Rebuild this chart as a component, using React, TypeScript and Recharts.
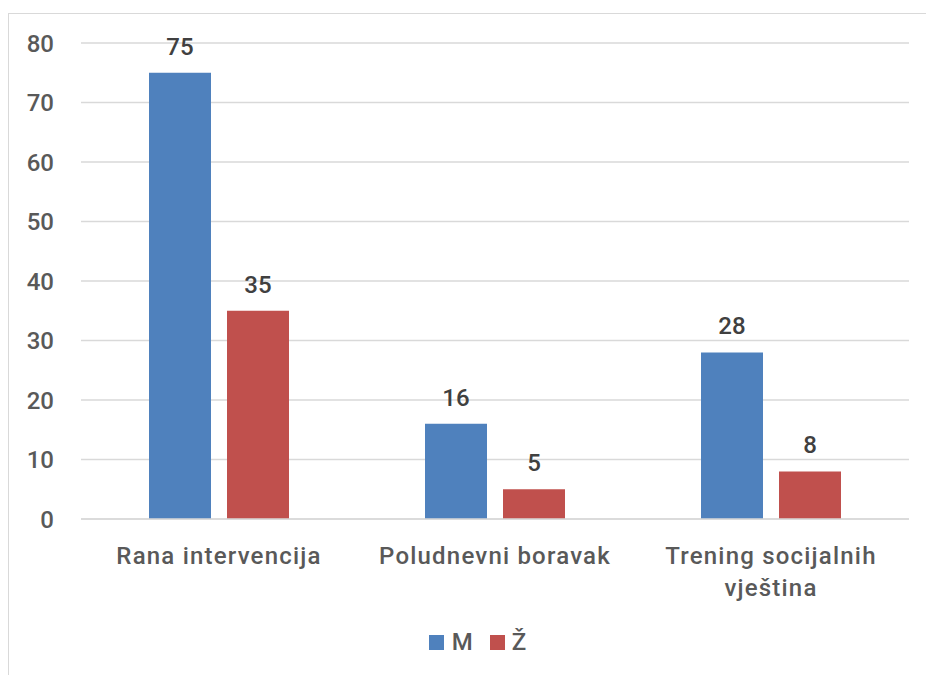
import React from 'react';
import { BarChart, Bar, XAxis, YAxis, CartesianGrid, Legend, LabelList } from 'recharts';

const categories = ['Rana intervencija', 'Poludnevni boravak', 'Trening socijalnih vještina'];
const seriesM = [75, 16, 28];
const seriesZ = [35, 5, 8];
const yTicks = [0, 10, 20, 30, 40, 50, 60, 70, 80];

const data = categories.map((name, i) => ({ name, M: seriesM[i], Z: seriesZ[i] }));

const FONT = 'Roboto, "DejaVu Sans", sans-serif';
const TXT = '#595959';
const FS = 24;
const FW = 500;
const MAX_CHARS = 19;

const wrapWords = (s: string): string[] => {
  const words = s.split(' ');
  const lines: string[] = [];
  let cur = '';
  words.forEach((w) => {
    const next = cur ? cur + ' ' + w : w;
    if (next.length > MAX_CHARS && cur) {
      lines.push(cur);
      cur = w;
    } else {
      cur = next;
    }
  });
  if (cur) lines.push(cur);
  return lines;
};

const XTick = (props: any) => {
  const { x, y, payload } = props;
  const lines = wrapWords(String(payload.value));
  return (
    <text x={x} y={y} textAnchor="middle" fill={TXT} fontSize={FS} fontFamily={FONT} fontWeight={FW} style={{ letterSpacing: 1.2 }}>
      {lines.map((l, i) => (
        <tspan key={i} x={x} dy={i === 0 ? 17 : 32}>{l}</tspan>
      ))}
    </text>
  );
};

const LegendContent = () => (
  <div style={{ display: 'flex', justifyContent: 'center', alignItems: 'center', fontFamily: FONT, fontSize: FS, fontWeight: FW, color: TXT, letterSpacing: 1 }}>
    <span style={{ width: 15, height: 15, background: '#4F81BD', display: 'inline-block', marginRight: 8 }} />
    <span style={{ marginRight: 16 }}>M</span>
    <span style={{ width: 15, height: 15, background: '#C0504D', display: 'inline-block', marginRight: 7 }} />
    <span>Ž</span>
  </div>
);

export default function App() {
  return (
    <div style={{ position: 'absolute', left: 0, top: 0, width: 926, height: 675, overflow: 'hidden', background: '#fff' }}>
      <div style={{ position: 'absolute', left: 8, top: 13, width: 1000, height: 1000, border: '1.5px solid #d9d9d9', boxSizing: 'border-box' }} />
      <div style={{ position: 'absolute', left: 0, top: 0 }}>
        <BarChart width={926} height={675} data={data} margin={{ top: 43, right: 17, left: 0, bottom: 50 }} barGap={16} barSize={62}>
          <CartesianGrid vertical={false} stroke="#d9d9d9" strokeWidth={1.5} />
          <XAxis dataKey="name" height={76} tickLine={false} axisLine={{ stroke: '#d9d9d9', strokeWidth: 1.5 }} tick={<XTick />} tickMargin={22} interval={0} />
          <YAxis width={81} domain={[0, 80]} ticks={yTicks} tickLine={false} axisLine={false} tickSize={0} tickMargin={27} tick={{ fill: TXT, fontSize: FS, fontFamily: FONT, fontWeight: FW }} />
          <Legend verticalAlign="bottom" content={<LegendContent />} wrapperStyle={{ top: 628, left: 15, width: 926, height: 30 }} />
          <Bar dataKey="M" name="M" fill="#4F81BD" isAnimationActive={false}>
            <LabelList dataKey="M" position="top" offset={18} fill="#404040" fontSize={FS} fontFamily={FONT} fontWeight={FW} />
          </Bar>
          <Bar dataKey="Z" name="Ž" fill="#C0504D" isAnimationActive={false}>
            <LabelList dataKey="Z" position="top" offset={18} fill="#404040" fontSize={FS} fontFamily={FONT} fontWeight={FW} />
          </Bar>
        </BarChart>
      </div>
    </div>
  );
}
